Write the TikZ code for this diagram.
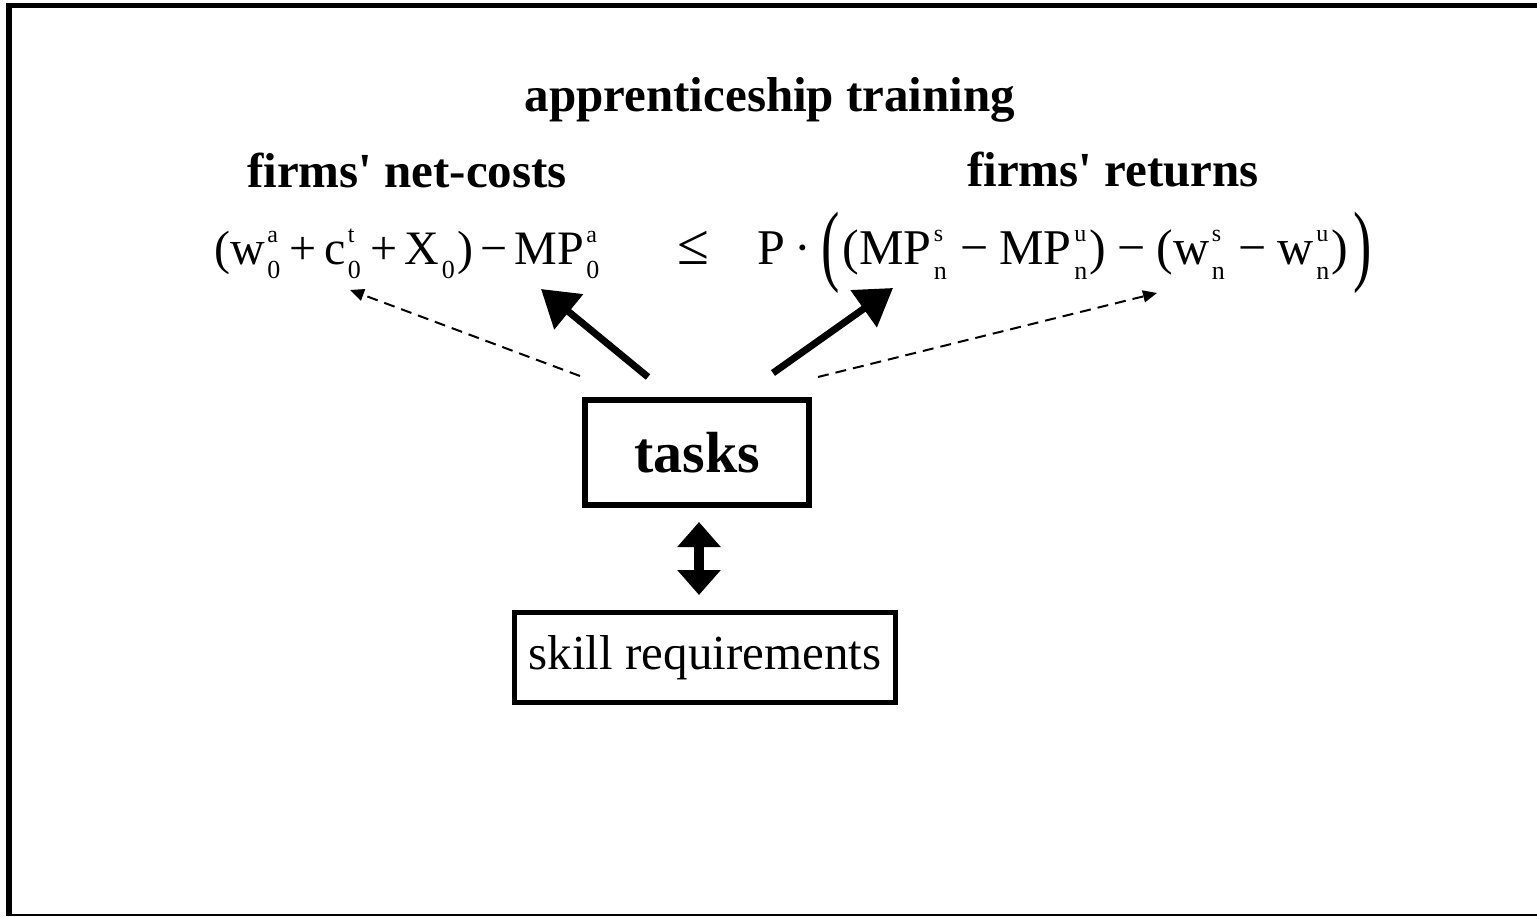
\documentclass[tikz,border=0pt]{standalone}
\usepackage{fontspec}
\setmainfont{Liberation Serif}
\usetikzlibrary{arrows.meta}
% stacked superscript / subscript pair, flush left, as wide as the wider of the two
\newcommand\sx[2]{\hspace{0.05em}%
  \setbox0\hbox{\fontsize{24}{24}\selectfont #1}%
  \setbox2\hbox{\fontsize{26}{26}\selectfont #2}%
  \ifdim\wd0>\wd2 \wd2=\wd0 \fi
  \rlap{\raisebox{0.45em}{\box0}}\raisebox{-0.3em}{\box2}\hspace{0.05em}}
\newcommand\bigparen[1]{\raisebox{-0.2em}{\scalebox{1.1}[1.8]{#1}}}
% spaced binary operators
\newcommand\op[2]{\hspace{#1}#2\hspace{#1}}
\begin{document}
\begin{tikzpicture}[x=1pt,y=-1pt,
  head/.style={font=\fontsize{49}{55}\selectfont\bfseries, inner sep=0pt},
  eq/.style={inner sep=0pt},
  box/.style={draw, inner sep=0pt, line cap=rect},
  strong/.style={line width=7pt, -{Triangle[length=36pt,width=44pt]}},
  weak/.style={line width=2pt, dash pattern=on 11pt off 7pt, -{Triangle[length=14pt,width=12pt]}},
  both/.style={line width=10pt, {Triangle[length=25pt,width=42pt]}-{Triangle[length=25pt,width=42pt]}}
]
\useasboundingbox (0,0) rectangle (1537,916);
\fill[white] (0,0) rectangle (1537,916);

% frame
\draw[line width=6pt] (9,3) -- (9,916);
\draw[line width=5pt] (6,5.5) -- (1537,5.5);
\draw[line width=2pt] (9,915) -- (1537,915);

% headings
\node[head] (title) at (770,100) {apprenticeship training};
\node[head] (costs) at (407,170) {firms\textquotesingle\ net-costs};
\node[head] (returns) at (1113,170) {firms\textquotesingle\ returns};

% inequality
\node[eq, anchor=base west, font=\fontsize{48}{54}\selectfont] (lhs) at (214,264)
  {(w\sx{a}{0}\op{0.15em}{+}c\sx{t}{0}\op{0.15em}{+}X\sx{}{0})\op{0.15em}{−}MP\sx{a}{0}};
\node[eq, anchor=base, font=\fontsize{58}{64}\selectfont] (leq) at (693,264) {≤};
\node[eq, anchor=base west, font=\fontsize{50}{56}\selectfont] (rhs) at (757,264)
  {P\op{0.2em}{·}\bigparen{(}\hspace{0.05em}(MP\sx{s}{n}\op{0.22em}{−}MP\sx{u}{n})\op{0.22em}{−}(w\sx{s}{n}\op{0.22em}{−}w\sx{u}{n})\hspace{0.1em}\bigparen{)}};

% boxes
\node[box, line width=6pt, minimum width=224pt, minimum height=105pt,
      font=\fontsize{58}{64}\selectfont\bfseries] (tasks) at (697,452.5) {tasks};
\node[box, line width=5pt, minimum width=381pt, minimum height=90pt,
      font=\fontsize{49}{56}\selectfont] (skills) at (705,657.5) {skill requirements};

% arrow ends
\coordinate (sL) at (648,377);
\coordinate (tL) at (541,289);
\coordinate (dL0) at (580,376);
\coordinate (dL1) at (350,290);
\coordinate (sR) at (773,373);
\coordinate (tR) at (893,288);
\coordinate (dR0) at (818,377);
\coordinate (dR1) at (1157,293);
\coordinate (axis) at (699,0);

\draw[strong] (sL) -- (tL);
\draw[strong] (sR) -- (tR);
\draw[weak] (dL0) -- (dL1);
\draw[weak] (dR0) -- (dR1);
\draw[both, shorten <=14pt, shorten >=15pt] (axis |- tasks.south) -- (axis |- skills.north);
\end{tikzpicture}
\end{document}
